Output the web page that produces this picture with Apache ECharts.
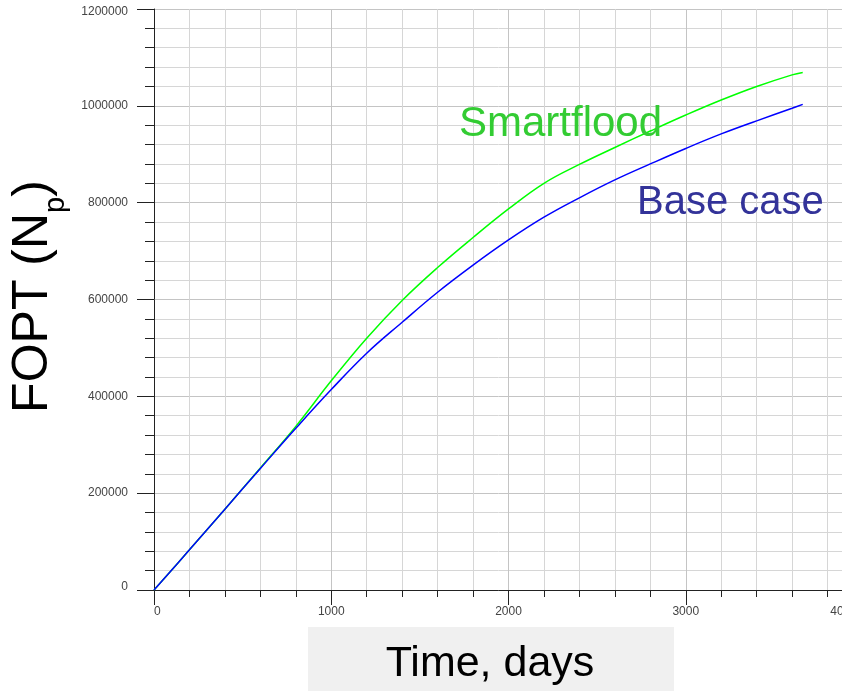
<!DOCTYPE html>
<html>
<head>
<meta charset="utf-8">
<title>FOPT vs time</title>
<script src="https://cdn.jsdelivr.net/npm/echarts@6/dist/echarts.min.js"></script>
<style>
  html, body { margin: 0; padding: 0; background: #ffffff; }
  #chart { width: 842px; height: 691px; }
</style>
</head>
<body>
<div id="chart"></div>
<script>
// Cumulative field oil production (FOPT) over time, two cases
const days = [0, 200, 400, 600, 800, 1000, 1200, 1400, 1600, 1800, 2000, 2200, 2400, 2600, 2800, 3000, 3200, 3400, 3600, 3660];
const baseCase = [0, 83000, 167000, 251000, 334000, 414000, 489000, 553000, 615000, 671000, 723000, 770000, 810000, 847000, 880000, 912000, 942000, 969000, 995000, 1003000];
const smartflood = [0, 83000, 167000, 252000, 338000, 432000, 520000, 598000, 666000, 728000, 787000, 840000, 879000, 914000, 948000, 981000, 1012000, 1040000, 1064000, 1069000];

const seriesNames = ['Smartflood', 'Base case'];
const xTitle = 'Time, days';
const yTitle = '{a|FOPT (N}{b|p}{a|)}';

const X_MAX = 4000;
const Y_MAX = 1200000;

const FONT = '"Liberation Sans", Arial, sans-serif';

function pairs(xs, ys) {
  return xs.map((x, i) => [x, ys[i]]);
}

// End labels are nudged inward so they stay next to the plot edges
function xLabel(v) {
  return v === X_MAX ? '{last|' + v + '}' : String(v);
}
function yLabel(v) {
  if (v === 0) return '{low|' + v + '}';
  if (v === Y_MAX) return '{high|' + v + '}';
  return String(v);
}

const labelText = { fontSize: 12, fontFamily: FONT, color: '#444' };

const chart = echarts.init(document.getElementById('chart'), null, { renderer: 'canvas' });

chart.setOption({
  backgroundColor: '#ffffff',
  animation: false,
  grid: { left: 154, top: 9, right: -21, bottom: 101, containLabel: false, outerBoundsMode: 'none' },
  xAxis: {
    type: 'value',
    min: 0,
    max: X_MAX,
    interval: 1000,
    axisLine: { show: true, onZero: false, lineStyle: { color: '#222', width: 1 } },
    axisTick: { show: true, length: 15, lineStyle: { color: '#222', width: 1 } },
    minorTick: { show: true, splitNumber: 5, length: 7, lineStyle: { color: '#222', width: 1 } },
    splitLine: { show: true, lineStyle: { color: '#c4c4c4', width: 1 } },
    minorSplitLine: { show: true, lineStyle: { color: '#d6d6d6', width: 1 } },
    axisLabel: Object.assign({
      margin: 16, formatter: xLabel,
      alignMinLabel: 'left', alignMaxLabel: 'right',
      rich: { last: Object.assign({ padding: [0, 6, 0, 0] }, labelText) }
    }, labelText)
  },
  yAxis: {
    type: 'value',
    min: 0,
    max: Y_MAX,
    interval: 200000,
    name: yTitle,
    nameLocation: 'middle',
    nameRotate: 90,
    nameGap: 83,
    nameTextStyle: {
      padding: [0, 0, 0, 6],
      rich: {
        a: { fontSize: 50, lineHeight: 62, verticalAlign: 'top', fontFamily: FONT, color: '#000' },
        b: { fontSize: 29, lineHeight: 31, verticalAlign: 'bottom', fontFamily: FONT, color: '#000' }
      }
    },
    axisLine: { show: true, onZero: false, lineStyle: { color: '#222', width: 1 } },
    axisTick: { show: true, length: 17, lineStyle: { color: '#222', width: 1 } },
    minorTick: { show: true, splitNumber: 5, length: 9, lineStyle: { color: '#222', width: 1 } },
    splitLine: { show: true, lineStyle: { color: '#c4c4c4', width: 1 } },
    minorSplitLine: { show: true, lineStyle: { color: '#d6d6d6', width: 1 } },
    axisLabel: Object.assign({
      margin: 26, formatter: yLabel,
      rich: {
        low: Object.assign({ padding: [0, 0, 6, 0] }, labelText),
        high: Object.assign({ padding: [6, 0, 0, 0] }, labelText)
      }
    }, labelText)
  },
  series: [
    {
      name: seriesNames[0],
      type: 'line',
      data: pairs(days, smartflood),
      showSymbol: false,
      smooth: 0.4,
      lineStyle: { color: '#00ff00', width: 1.5 },
      z: 2
    },
    {
      name: seriesNames[1],
      type: 'line',
      data: pairs(days, baseCase),
      showSymbol: false,
      smooth: 0.4,
      lineStyle: { color: '#0000ff', width: 1.5 },
      z: 3
    }
  ],
  graphic: [
    {
      type: 'rect',
      x: 308, y: 627,
      shape: { width: 366, height: 64 },
      style: { fill: '#f0f0f0' },
      z: 10
    },
    {
      type: 'text',
      x: 490, y: 664,
      style: { text: xTitle, fontSize: 43, fontFamily: FONT, fill: '#000', align: 'center', verticalAlign: 'middle' },
      z: 11
    },
    {
      type: 'text',
      x: 459, y: 124,
      style: { text: seriesNames[0], fontSize: 42, fontFamily: FONT, fill: '#33cc33', align: 'left', verticalAlign: 'middle' },
      z: 11
    },
    {
      type: 'text',
      x: 637, y: 203,
      style: { text: seriesNames[1], fontSize: 40, fontFamily: FONT, fill: '#333399', align: 'left', verticalAlign: 'middle' },
      z: 11
    }
  ]
});
</script>
</body>
</html>
